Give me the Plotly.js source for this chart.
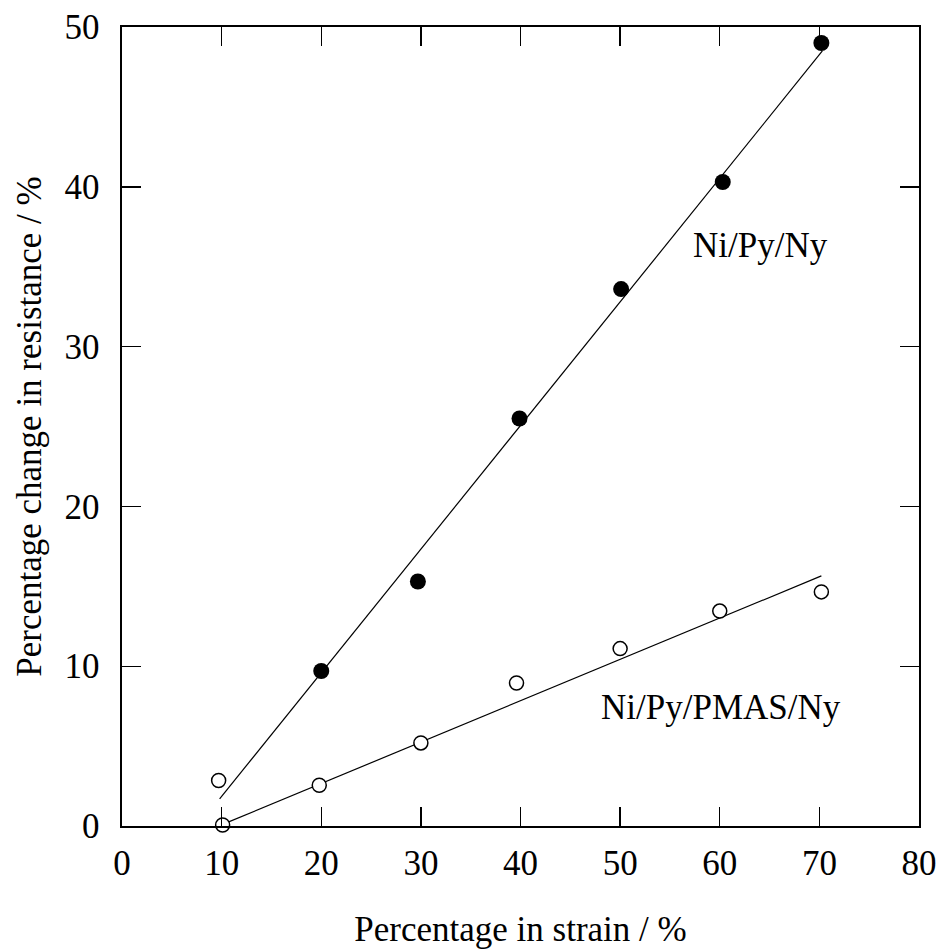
<!DOCTYPE html>
<html>
<head>
<meta charset="utf-8">
<script src="https://cdn.plot.ly/plotly-3.0.1.min.js"></script>
<style>html,body{margin:0;padding:0;background:#fff;}#chart{width:942px;height:949px;}</style>
</head>
<body>
<div id="chart"></div>
<script>
// Ni/Py/Ny (filled circles)
const nyStrain = [20, 29.7, 39.9, 50.1, 60.3, 70.2];
const nyResist = [9.7, 15.3, 25.5, 33.6, 40.3, 49.0];
// Ni/Py/PMAS/Ny (open circles)
const pmasStrain = [9.7, 10.1, 19.8, 30, 39.6, 50, 60, 70.2];
const pmasResist = [2.85, 0.06, 2.55, 5.2, 8.95, 11.1, 13.45, 14.65];
// fitted lines (end points)
const nyFitX = [9.8, 70.3];
const nyFitY = [1.7, 48.5];
const pmasFitX = [10.1, 70.2];
const pmasFitY = [0.1, 15.65];
// tick values
const xTicks = [0, 10, 20, 30, 40, 50, 60, 70, 80];
const yTicks = [0, 10, 20, 30, 40, 50];
const labelNy = "Ni/Py/Ny";
const labelPmas = "Ni/Py/PMAS/Ny";

const FONT = "Liberation Serif";

const traces = [
  {x: nyFitX, y: nyFitY, mode: "lines", line: {color: "#000", width: 1.2}, hoverinfo: "skip", cliponaxis: false},
  {x: pmasFitX, y: pmasFitY, mode: "lines", line: {color: "#000", width: 1.2}, hoverinfo: "skip", cliponaxis: false},
  {x: nyStrain, y: nyResist, mode: "markers", marker: {symbol: "circle", size: 16, color: "#000", line: {width: 0}}, cliponaxis: false},
  {x: pmasStrain, y: pmasResist, mode: "markers", marker: {symbol: "circle", size: 14, color: "#fff", line: {color: "#000", width: 1.5}}, cliponaxis: false}
];

const axisCommon = {
  showgrid: false, zeroline: false, showline: true, linecolor: "#000", linewidth: 1.6,
  mirror: "allticks", ticks: "inside", ticklen: 19, tickwidth: 1.4, tickcolor: "#000",
  tickfont: {family: FONT, size: 35, color: "#000"}, tickmode: "array"
};

const layout = {
  width: 942, height: 949,
  margin: {l: 122, r: 23, t: 27, b: 123},
  paper_bgcolor: "#fff", plot_bgcolor: "#fff",
  showlegend: false,
  font: {family: FONT, color: "#000"},
  xaxis: Object.assign({}, axisCommon, {
    range: [0, 80], tickvals: xTicks, ticktext: xTicks.map(String),
    ticklabelstandoff: 5,
    title: {text: "Percentage in strain / %", font: {family: FONT, size: 35, color: "#000"}, standoff: 35}
  }),
  yaxis: Object.assign({}, axisCommon, {
    range: [0, 50], tickvals: yTicks, ticktext: yTicks.map(String),
    ticklabelstandoff: 14,
    title: {text: "Percentage change in resistance / %", font: {family: FONT, size: 35, color: "#000"}, standoff: 12}
  }),
  annotations: [
    {x: 64.05, y: 36.3, xref: "x", yref: "y", text: labelNy, showarrow: false, font: {family: FONT, size: 35, color: "#000"}},
    {x: 60.1, y: 7.4, xref: "x", yref: "y", text: labelPmas, showarrow: false, font: {family: FONT, size: 35, color: "#000"}}
  ]
};

Plotly.newPlot("chart", traces, layout, {displayModeBar: false, staticPlot: true});
</script>
</body>
</html>
